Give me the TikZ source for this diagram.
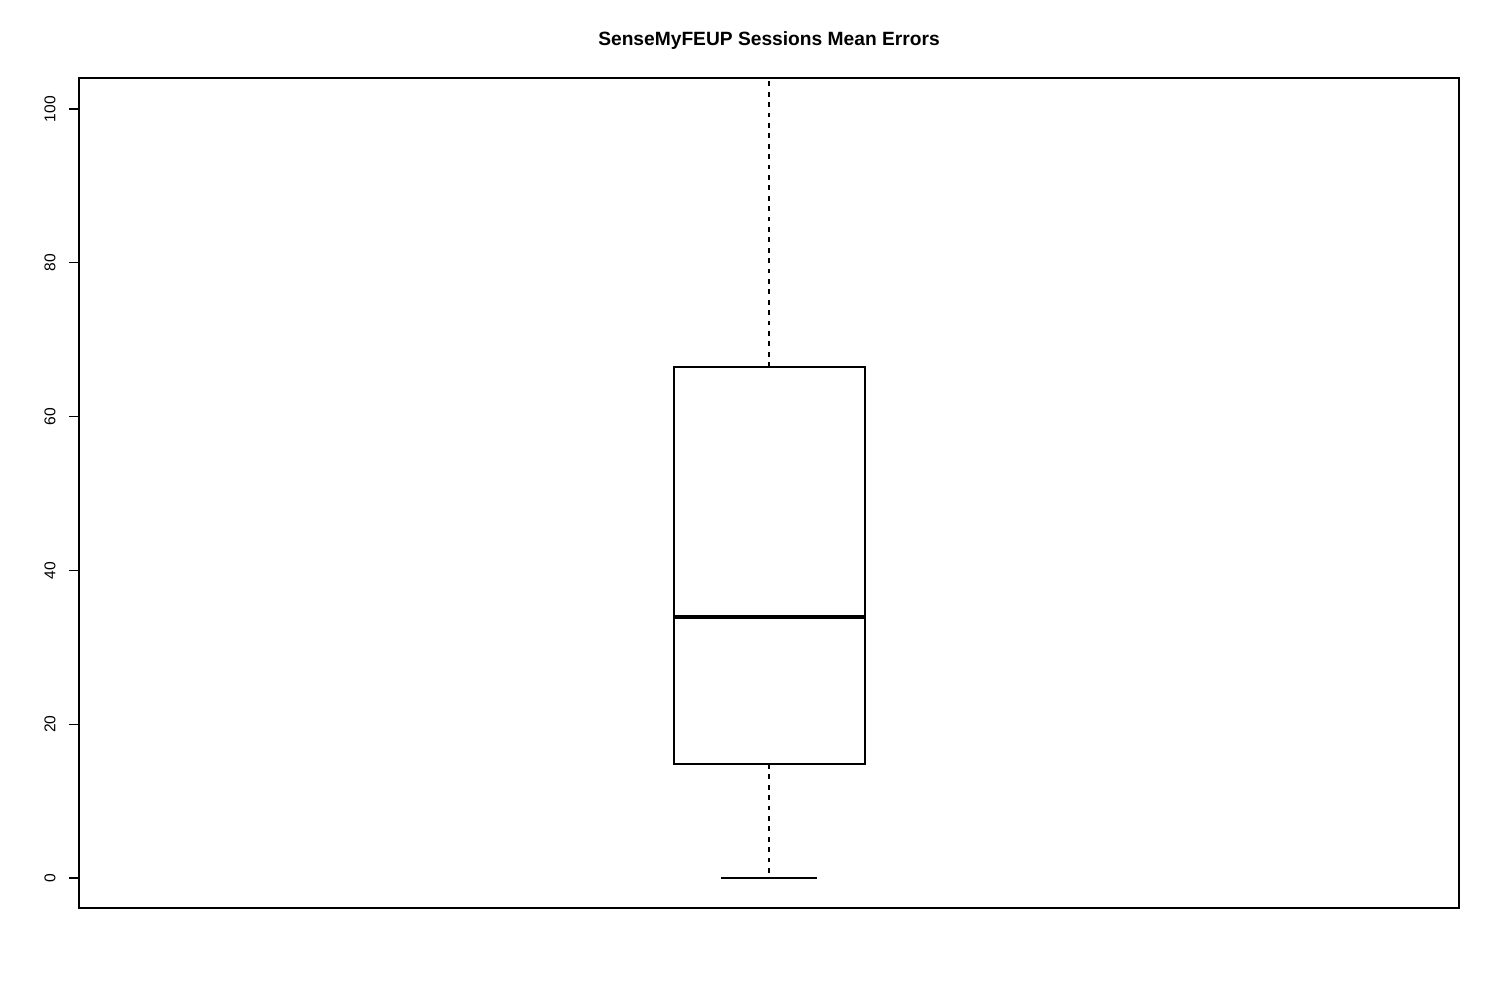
\documentclass[tikz,border=0pt]{standalone}
\usepackage{fontspec}
\setmainfont{Liberation Sans}
\begin{document}
\begin{tikzpicture}[x=0.5pt,y=-0.5pt,line width=0.55pt,
    ticklabel/.style={rotate=90,font=\fontsize{7.8}{9}\selectfont},
    whisker/.style={dash pattern=on 2.4pt off 2.8pt}]
    \useasboundingbox (0,0) rectangle (1500,1007);

    % Titulo
    \node[font=\bfseries\fontsize{9.6}{11}\selectfont] (titulo) at (769,41) {SenseMyFEUP Sessions Mean Errors};

    % Marco del grafico
    \draw (79,78) rectangle (1459,908);

    % Eje y: marcas y etiquetas
    \foreach \v in {0,20,...,100} {
        \coordinate (t\v) at (79,{878-7.69*\v});
        \draw (t\v) -- ++(-10,0);
        \node[ticklabel] (l\v) at (50,{878-7.69*\v}) {\v};
    }

    % Caja
    \coordinate (q1) at (674,764);
    \coordinate (q3) at (865,367);
    \draw (q1) rectangle (q3);
    \draw[line width=1.6pt] (674,617) -- (865,617);

    % Bigotes
    \coordinate (wmin) at (769,878);
    \coordinate (wmax) at (769,78);
    \draw[whisker] (769,764) -- (wmin);
    \draw[whisker] (769,367) -- (wmax);
    \draw (721,878) -- (817,878);
\end{tikzpicture}
\end{document}
